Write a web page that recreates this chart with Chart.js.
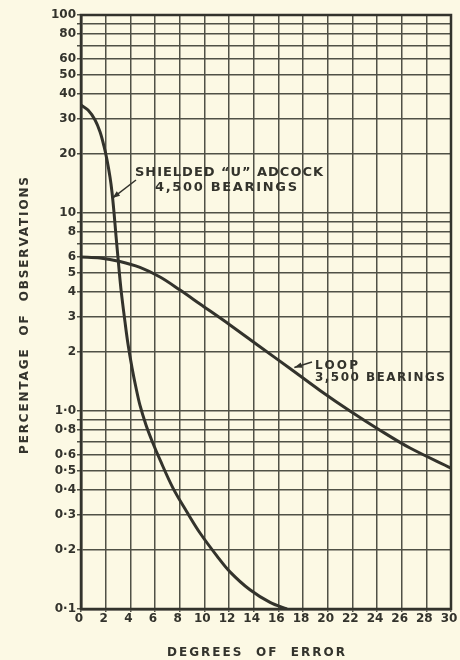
<!DOCTYPE html>
<html>
<head>
<meta charset="utf-8">
<title>Percentage of observations vs degrees of error</title>
<script src="https://cdn.jsdelivr.net/npm/chart.js@4.4.1/dist/chart.umd.min.js"></script>
<style>
  html, body { margin: 0; padding: 0; background: #fcf9e4; }
  canvas { display: block; }
</style>
</head>
<body>
<canvas id="chart" width="460" height="660"></canvas>
<script>
// ==================== DATA ====================
var adcockX = [0, 0.57, 1.14, 1.54, 1.86, 2.11, 2.35, 2.51, 2.68, 2.84, 3.0, 3.24, 3.57, 3.81, 4.14, 4.46,
               4.78, 5.27, 5.76, 6.41, 7.46, 8.59, 9.65, 11.03, 12.08, 13.7, 15.33, 16.7];
var adcockY = [35.1, 33.1, 29.5, 25.7, 21.8, 18.5, 15.2, 12.8, 10, 7.65, 5.93, 4.13, 2.81, 2.18, 1.65, 1.31,
               1.07, 0.85, 0.706, 0.566, 0.408, 0.309, 0.242, 0.185, 0.154, 0.125, 0.108, 0.1];

var loopX = [0, 1.54, 3.16, 4.78, 6.41, 8.03, 9.65, 12.08, 14.51, 16.95, 19.38, 21.81, 24.24, 26.68, 30];
var loopY = [6.0, 5.93, 5.69, 5.31, 4.75, 4.08, 3.47, 2.72, 2.11, 1.64, 1.27, 1.0, 0.80, 0.65, 0.515];

var xTicks = [0, 2, 4, 6, 8, 10, 12, 14, 16, 18, 20, 22, 24, 26, 28, 30];
var xTickLabels = ['0', '2', '4', '6', '8', '10', '12', '14', '16', '18', '20', '22', '24', '26', '28', '30'];

var yTicks = [0.1, 0.2, 0.3, 0.4, 0.5, 0.6, 0.7, 0.8, 0.9,
              1, 2, 3, 4, 5, 6, 7, 8, 9,
              10, 20, 30, 40, 50, 60, 70, 80, 90, 100];
var yTickLabels = ['0·1', '0·2', '0·3', '0·4', '0·5', '0·6', '', '0·8', '',
                   '1·0', '2', '3', '4', '5', '6', '', '8', '',
                   '10', '20', '30', '40', '50', '60', '', '80', '', '100'];

var ink = '#33332c';
var gridInk = '#505146';
var paper = '#fcf9e4';

function toPoints(xs, ys) {
    return xs.map(function(x, i) { return { x: x, y: ys[i] }; });
}

// draw text stretched to a given width (letter spaced like the print)
function spacedText(ctx, text, x, y, width) {
    ctx.letterSpacing = '0px';
    var w = ctx.measureText(text).width;
    var gap = (width - w) / (text.length - 1);
    ctx.letterSpacing = gap + 'px';
    ctx.fillText(text, x, y);
    ctx.letterSpacing = '0px';
}

function arrow(ctx, x1, y1, x2, y2) {
    var ang = Math.atan2(y2 - y1, x2 - x1);
    ctx.beginPath();
    ctx.moveTo(x1, y1);
    ctx.lineTo(x2, y2);
    ctx.stroke();
    ctx.beginPath();
    ctx.moveTo(x2, y2);
    ctx.lineTo(x2 - 8 * Math.cos(ang - 0.35), y2 - 8 * Math.sin(ang - 0.35));
    ctx.lineTo(x2 - 8 * Math.cos(ang + 0.35), y2 - 8 * Math.sin(ang + 0.35));
    ctx.closePath();
    ctx.fill();
}

var paperPlugin = {
    id: 'paper',
    beforeDraw: function(chart) {
        var ctx = chart.ctx;
        ctx.save();
        ctx.fillStyle = paper;
        ctx.fillRect(0, 0, chart.width, chart.height);
        ctx.restore();
    },
    afterDraw: function(chart) {
        var ctx = chart.ctx;
        var a = chart.chartArea;
        var xs = chart.scales.x, ys = chart.scales.y;
        ctx.save();

        // heavy frame
        ctx.strokeStyle = ink;
        ctx.lineWidth = 2.5;
        ctx.strokeRect(a.left, a.top, a.right - a.left, a.bottom - a.top);

        ctx.fillStyle = ink;
        ctx.textBaseline = 'middle';
        ctx.textAlign = 'left';

        // curve labels
        ctx.font = 'bold 13px "DejaVu Sans"';
        spacedText(ctx, 'SHIELDED \u201CU\u201D ADCOCK', 135, 173, 188);
        spacedText(ctx, '4,500 BEARINGS', 155, 188, 142);
        ctx.font = 'bold 12px "DejaVu Sans"';
        spacedText(ctx, 'LOOP', 315, 366, 43);
        spacedText(ctx, '3,500 BEARINGS', 315, 378, 130);

        ctx.lineWidth = 1.5;
        arrow(ctx, 136, 180, xs.getPixelForValue(2.55), ys.getPixelForValue(11.9));
        arrow(ctx, 312, 362, xs.getPixelForValue(17.3), ys.getPixelForValue(1.66));

        // axis titles
        ctx.font = 'bold 12px "DejaVu Sans"';
        spacedText(ctx, 'DEGREES  OF  ERROR', 167, 653, 178);
        ctx.translate(25, 316);
        ctx.rotate(-Math.PI / 2);
        spacedText(ctx, 'PERCENTAGE  OF  OBSERVATIONS', -138, 0, 277);

        ctx.restore();
    }
};

var tickFont = { family: 'DejaVu Sans', size: 12, weight: 'bold' };

new Chart(document.getElementById('chart'), {
    type: 'scatter',
    data: {
        datasets: [
            {
                label: 'Shielded "U" Adcock, 4,500 bearings',
                data: toPoints(adcockX, adcockY),
                showLine: true,
                borderColor: ink,
                borderWidth: 3,
                pointRadius: 0,
                tension: 0.35
            },
            {
                label: 'Loop, 3,500 bearings',
                data: toPoints(loopX, loopY),
                showLine: true,
                borderColor: ink,
                borderWidth: 3,
                pointRadius: 0,
                tension: 0.35
            }
        ]
    },
    options: {
        responsive: false,
        animation: false,
        layout: { padding: { top: 15, right: 9, left: 0, bottom: 0 } },
        plugins: { legend: { display: false }, tooltip: { enabled: false } },
        scales: {
            x: {
                type: 'linear',
                min: 0,
                max: 30,
                afterBuildTicks: function(scale) {
                    scale.ticks = xTicks.map(function(v) { return { value: v }; });
                },
                afterFit: function(scale) { scale.height = 51; },
                grid: { color: gridInk, lineWidth: 1.5, tickLength: 3 },
                border: { color: ink, width: 2.5 },
                ticks: {
                    autoSkip: false,
                    maxRotation: 0,
                    padding: 0,
                    labelOffset: -2,
                    color: ink,
                    font: tickFont,
                    callback: function(value, index) { return xTickLabels[index]; }
                }
            },
            y: {
                type: 'logarithmic',
                min: 0.1,
                max: 100,
                afterBuildTicks: function(scale) {
                    scale.ticks = yTicks.map(function(v) { return { value: v }; });
                },
                afterFit: function(scale) { scale.width = 81; },
                grid: { color: gridInk, lineWidth: 1.5, tickLength: 4 },
                border: { color: ink, width: 2.5 },
                ticks: {
                    autoSkip: false,
                    padding: 1,
                    color: ink,
                    font: tickFont,
                    callback: function(value, index) { return yTickLabels[index]; }
                }
            }
        }
    },
    plugins: [paperPlugin]
});
</script>
</body>
</html>
